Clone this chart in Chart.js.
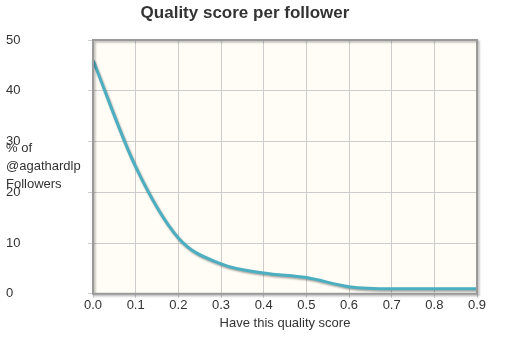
<!DOCTYPE html>
<html><head><meta charset="utf-8">
<script src="https://cdn.jsdelivr.net/npm/chart.js@4/dist/chart.umd.min.js"></script>
<style>html,body{margin:0;padding:0;background:#fff}#wrap{width:518px;height:351px}</style>
</head><body><div id="wrap"><canvas id="c" width="518" height="351"></canvas></div>
<script>
const qualityScores = [0.0, 0.1, 0.2, 0.3, 0.4, 0.5, 0.6, 0.7, 0.8, 0.9];
const followerPercent = [46, 25, 11, 5.9, 4.1, 3.2, 1.4, 1.0, 1.0, 1.0];
const yTicks = [0, 10, 20, 30, 40, 50];
const chartTitle = "Quality score per follower";
const xTitle = "Have this quality score";
const yTitleLines = ["% of", "@agathardlp", "Followers"];

const bgPlugin = {
  id: 'bg',
  beforeDraw(chart) {
    const {ctx, chartArea: a} = chart;
    ctx.save();
    ctx.fillStyle = '#fffdf5';
    ctx.fillRect(a.left, a.top, a.right - a.left, a.bottom - a.top);
    ctx.restore();
  },
  beforeDatasetsDraw(chart) {
    const ctx = chart.ctx;
    ctx.save();
    ctx.shadowColor = 'rgba(0,0,0,0.35)';
    ctx.shadowOffsetX = 1;
    ctx.shadowOffsetY = 1.5;
    ctx.shadowBlur = 2;
  },
  afterDatasetsDraw(chart) {
    chart.ctx.restore();
  },
  afterDraw(chart) {
    const {ctx, chartArea: a} = chart;
    ctx.save();
    ctx.shadowColor = 'rgba(0,0,0,0.3)';
    ctx.shadowOffsetX = 1.5;
    ctx.shadowOffsetY = 1.5;
    ctx.shadowBlur = 2;
    ctx.strokeStyle = '#9a9a9a';
    ctx.lineWidth = 2;
    ctx.strokeRect(a.left, a.top, a.right - a.left, a.bottom - a.top);
    ctx.restore();
    ctx.save();
    ctx.fillStyle = '#333';
    ctx.font = 'bold 17px "Liberation Sans", Arial, sans-serif';
    ctx.textAlign = 'center';
    ctx.textBaseline = 'middle';
    ctx.fillText(chartTitle, 245, 13);
    ctx.font = '13px "Liberation Sans", Arial, sans-serif';
    ctx.textAlign = 'left';
    ctx.fillStyle = '#333';
    yTitleLines.forEach((t, i) => ctx.fillText(t, 6, 148 + i * 18));
    ctx.restore();
  }
};

new Chart(document.getElementById('c'), {
  type: 'line',
  data: {
    datasets: [{
      data: qualityScores.map((x, i) => ({x, y: followerPercent[i]})),
      borderColor: '#4bafc1',
      borderWidth: 3,
      pointRadius: 0,
      cubicInterpolationMode: 'monotone',
      fill: false
    }]
  },
  options: {
    responsive: false,
    animation: false,
    layout: {padding: {left: 6, top: 40, right: 41, bottom: 20}},
    plugins: {legend: {display: false}, tooltip: {enabled: false}, title: {display: false}},
    scales: {
      x: {
        type: 'linear', min: 0, max: 0.9,
        afterBuildTicks(s) { s.ticks = qualityScores.map(v => ({value: v})); },
        ticks: {
          color: '#333', font: {family: '"Liberation Sans", Arial, sans-serif', size: 13},
          padding: 0, maxRotation: 0,
          callback: v => Number(v).toFixed(1)
        },
        grid: {color: '#cccccc', lineWidth: 1, tickLength: 4, drawTicks: true},
        border: {display: false},
        title: {display: true, text: xTitle, color: '#333', font: {family: '"Liberation Sans", Arial, sans-serif', size: 13}, padding: {top: 2, bottom: 0}}
      },
      y: {
        min: 0, max: 50,
        afterBuildTicks(s) { s.ticks = yTicks.map(v => ({value: v})); },
        afterFit(s) { s.width = 87; },
        ticks: {
          color: '#333', font: {family: '"Liberation Sans", Arial, sans-serif', size: 13},
          crossAlign: 'far', padding: 4
        },
        grid: {color: '#cccccc', lineWidth: 1, tickLength: 5},
        border: {display: false}
      }
    }
  },
  plugins: [bgPlugin]
});
</script>
</body></html>
